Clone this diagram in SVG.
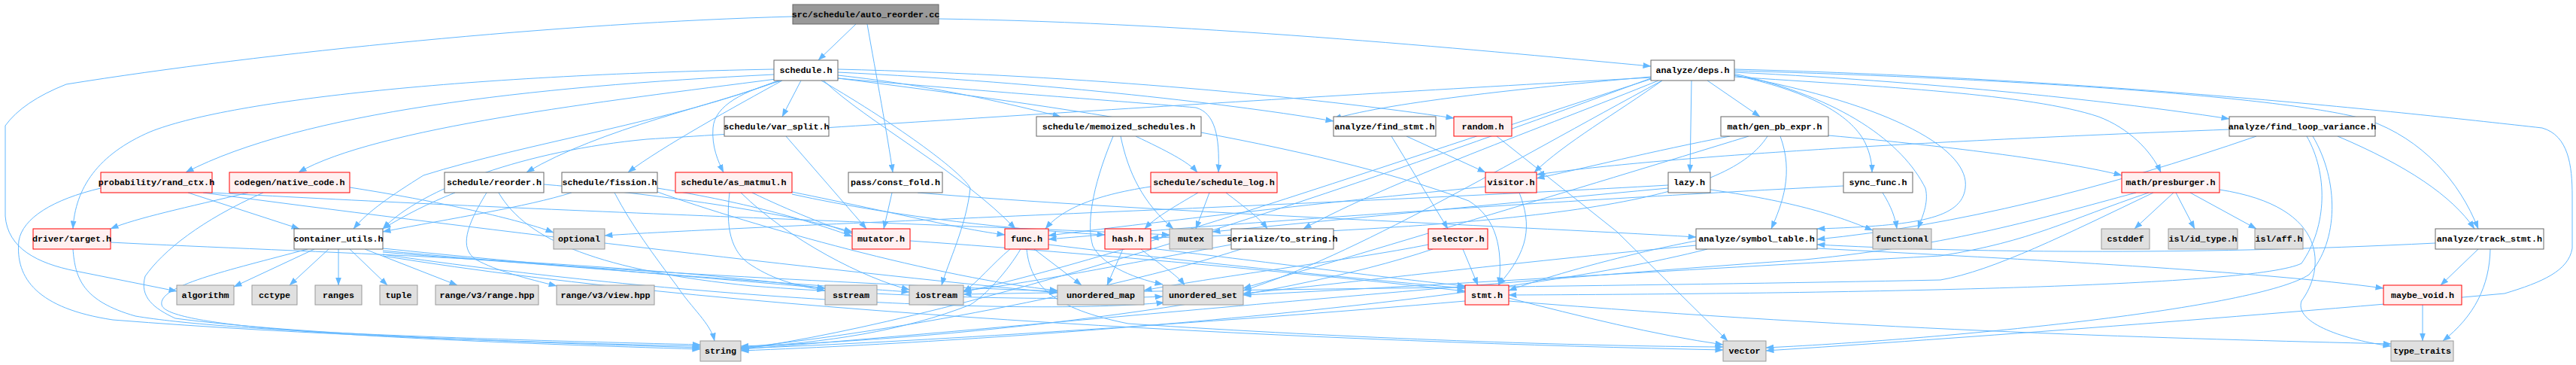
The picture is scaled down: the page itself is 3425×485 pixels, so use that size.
<svg xmlns="http://www.w3.org/2000/svg" width="3425" height="485" viewBox="0 0 3425 485">
<style>
.e{fill:none;stroke:#63b8ff;stroke-width:1;marker-end:url(#ah)}
.w rect{fill:#ffffff;stroke:#666666;stroke-width:1}
.r rect{fill:#fff0f0;stroke:#ff0000;stroke-width:1}
.g rect{fill:#e0e0e0;stroke:#999999;stroke-width:1}
.k rect{fill:#999999;stroke:#666666;stroke-width:1}
text{font-family:"Liberation Mono","DejaVu Sans Mono",monospace;font-size:11.7px;font-weight:bold;fill:#000000;text-anchor:middle}
</style>
<defs>
<marker id="ah" markerUnits="userSpaceOnUse" markerWidth="11" markerHeight="8" viewBox="0 0 11 8" refX="10.5" refY="4" orient="auto">
<path d="M0,0 L11,4 L0,8 z" fill="#63b8ff"/>
</marker>
</defs>
<rect width="3425" height="485" fill="#ffffff"/>
<g id="edges">
<path class="e" d="M1138,32 L1088,80"/>
<path class="e" d="M1153,32 C1165,100 1180,180 1187,229"/>
<path class="e" d="M1054,22 C750,30 350,70 88,112 Q30,135 7,167 L7,287 C10,330 50,350 100,360 L235,387"/>
<path class="e" d="M1248,25 C1600,30 2000,70 2195,88"/>
<path class="e" d="M1029,92 C600,100 300,135 200,175 C130,205 100,250 97,304"/>
<path class="e" d="M1029,99 C700,115 400,150 247,229"/>
<path class="e" d="M1032,105 C800,135 500,170 397,229"/>
<path class="e" d="M1037,107 C950,140 800,170 700,229"/>
<path class="e" d="M1040,107 C980,140 880,195 835,229"/>
<path class="e" d="M1040,107 C990,120 950,140 948,170 C946,195 955,215 962,229"/>
<path class="e" d="M1065,107 L1040,155"/>
<path class="e" d="M1114,100 C1250,115 1350,140 1410,155"/>
<path class="e" d="M1114,104 C1350,125 1500,135 1590,143 C1615,150 1622,180 1620,229"/>
<path class="e" d="M1114,96 C1400,110 1650,140 1773,161"/>
<path class="e" d="M1114,92 C1450,100 1750,130 1933,157"/>
<path class="e" d="M1095,107 C1150,160 1280,230 1350,304"/>
<path class="e" d="M1114,104 C1400,140 1750,190 1953,267 C1990,290 1998,330 1993,379"/>
<path class="e" d="M1092,107 C1200,170 1280,230 1290,250 C1285,300 1260,350 1252,379"/>
<path class="e" d="M1035,107 C900,160 700,190 563,233 C520,260 490,280 470,304"/>
<path class="e" d="M2306,96 C2600,110 2850,140 2964,158"/>
<path class="e" d="M2195,102 C2050,115 1850,135 1773,158"/>
<path class="e" d="M2249,107 L2247,229"/>
<path class="e" d="M2270,107 L2340,155"/>
<path class="e" d="M2306,100 C2400,120 2460,150 2480,190 C2487,205 2489,218 2489,229"/>
<path class="e" d="M2306,102 C2500,115 2700,125 2790,155 C2830,170 2860,200 2873,229"/>
<path class="e" d="M2306,94 C2700,105 3050,130 3150,160 C3220,185 3270,240 3295,304"/>
<path class="e" d="M2306,98 C2450,130 2530,190 2560,250 C2565,270 2555,290 2550,304"/>
<path class="e" d="M2306,100 C2520,140 2620,200 2613,250 C2608,290 2550,300 2416,304"/>
<path class="e" d="M2210,107 C2150,150 2080,190 2040,229"/>
<path class="e" d="M2205,107 C2050,170 1850,240 1733,304"/>
<path class="e" d="M2195,105 C1900,200 1500,340 1281,388"/>
<path class="e" d="M2210,107 C2000,220 1800,340 1653,386"/>
<path class="e" d="M2306,92 C2800,105 3200,150 3380,170 C3415,180 3420,220 3420,260 L3420,330 C3415,360 3380,375 3330,390 C3000,420 2600,450 2348,466"/>
<path class="e" d="M2195,104 C1800,250 1300,420 985,464"/>
<path class="e" d="M2195,103 C1700,130 1100,170 860,185 C700,200 560,250 509,304"/>
<path class="e" d="M1045,181 L1152,304"/>
<path class="e" d="M1186,256 L1175,304"/>
<path class="e" d="M1220,256 C1500,280 2000,300 2255,315"/>
<path class="e" d="M1000,256 C1050,280 1100,300 1133,310"/>
<path class="e" d="M970,256 C965,300 970,335 1000,353 C1030,372 1060,380 1097,386"/>
<path class="e" d="M985,256 C1050,320 1150,370 1209,385"/>
<path class="e" d="M1053,255 C1200,285 1280,305 1336,312"/>
<path class="e" d="M1053,258 C1200,290 1350,305 1469,312"/>
<path class="e" d="M760,256 C700,275 600,290 509,308"/>
<path class="e" d="M874,250 C1000,270 1080,295 1133,314"/>
<path class="e" d="M817,256 C840,300 870,340 900,380 C920,410 945,430 950,453"/>
<path class="e" d="M874,255 C1000,300 1250,370 1406,386"/>
<path class="e" d="M605,256 C570,270 540,285 509,304"/>
<path class="e" d="M723,245 C900,260 1050,285 1133,308"/>
<path class="e" d="M647,256 C620,300 610,330 633,345 C660,360 700,370 740,380"/>
<path class="e" d="M663,256 C700,320 800,360 1000,380 C1200,395 1400,400 1546,394"/>
<path class="e" d="M330,256 C250,275 180,290 147,304"/>
<path class="e" d="M350,256 C267,293 217,333 193,367 C185,395 205,410 233,423 C400,445 700,455 931,462"/>
<path class="e" d="M465,249 C600,270 700,295 736,309"/>
<path class="e" d="M250,256 L398,304"/>
<path class="e" d="M134,250 C70,265 30,290 25,320 C20,370 50,410 150,425 C400,445 700,455 931,460"/>
<path class="e" d="M282,256 C700,280 1300,300 1555,312"/>
<path class="e" d="M270,256 C600,300 1100,360 1406,389"/>
<path class="e" d="M97,331 C100,370 110,400 180,420 C300,440 600,450 931,458"/>
<path class="e" d="M147,322 C400,335 800,345 1097,383"/>
<path class="e" d="M418,331 L311,381"/>
<path class="e" d="M437,331 L385,379"/>
<path class="e" d="M450,331 L450,379"/>
<path class="e" d="M465,331 L515,379"/>
<path class="e" d="M485,331 L608,379"/>
<path class="e" d="M509,330 C700,350 950,370 1097,383"/>
<path class="e" d="M509,333 C800,360 1100,380 1209,388"/>
<path class="e" d="M409,331 C300,360 210,380 215,405 C220,430 400,448 931,464"/>
<path class="e" d="M509,335 C800,360 1200,380 1406,387"/>
<path class="e" d="M509,338 C900,395 1350,420 1548,402"/>
<path class="e" d="M509,340 C1000,420 1800,455 2291,465"/>
<path class="e" d="M1210,320 C1500,340 1800,370 1948,387"/>
<path class="e" d="M1375,331 L1438,379"/>
<path class="e" d="M1357,331 C1340,360 1310,393 1290,405 C1200,440 1100,455 985,462"/>
<path class="e" d="M1343,331 C1320,350 1300,375 1281,388"/>
<path class="e" d="M1365,331 C1370,380 1400,410 1500,430 C1800,450 2100,460 2291,461"/>
<path class="e" d="M1394,325 C1600,350 1850,375 1948,383"/>
<path class="e" d="M1493,331 L1472,379"/>
<path class="e" d="M1517,331 C1540,350 1565,365 1575,379"/>
<path class="e" d="M1530,330 C1700,350 1850,370 1948,380"/>
<path class="e" d="M1593,256 C1557,277 1535,290 1522,304"/>
<path class="e" d="M1608,256 L1590,304"/>
<path class="e" d="M1630,256 C1657,277 1675,290 1685,304"/>
<path class="e" d="M1530,248 C1450,260 1410,280 1390,304"/>
<path class="e" d="M1510,181 C1550,200 1580,215 1592,229"/>
<path class="e" d="M1490,181 C1500,230 1520,270 1560,304"/>
<path class="e" d="M1480,181 C1450,253 1445,300 1453,327 C1465,350 1500,368 1546,378"/>
<path class="e" d="M1850,181 L1925,304"/>
<path class="e" d="M1870,181 L1975,229"/>
<path class="e" d="M1990,181 L2150,308 L2297,453"/>
<path class="e" d="M2020,256 C2037,300 2033,333 1992,379"/>
<path class="e" d="M1975,248 C1700,275 1500,300 1394,313"/>
<path class="e" d="M1945,331 L1965,379"/>
<path class="e" d="M1905,331 C1700,400 1300,450 985,460"/>
<path class="e" d="M1899,325 C1800,345 1600,370 1521,386"/>
<path class="e" d="M2255,320 C2150,340 2050,370 2006,386"/>
<path class="e" d="M2270,331 C2000,400 1400,450 985,466"/>
<path class="e" d="M2255,326 C2000,350 1800,375 1653,390"/>
<path class="e" d="M2416,330 C2700,345 3000,360 3169,383"/>
<path class="e" d="M2274,252 C2400,270 2450,290 2490,306"/>
<path class="e" d="M2218,246 C1800,270 1000,300 804,313"/>
<path class="e" d="M2218,250 C2000,270 1800,290 1612,308"/>
<path class="e" d="M2503,256 C2515,275 2520,290 2522,304"/>
<path class="e" d="M2451,247 C2000,270 1600,300 1394,318"/>
<path class="e" d="M2431,180 C2600,195 2750,215 2821,233"/>
<path class="e" d="M2367,181 C2385,230 2370,270 2355,304"/>
<path class="e" d="M2300,181 C2200,200 2100,225 2043,237"/>
<path class="e" d="M2350,181 C2300,260 2100,300 1530,316"/>
<path class="e" d="M2325,181 C2100,250 1800,340 1653,383"/>
<path class="e" d="M2890,256 L2838,304"/>
<path class="e" d="M2893,256 L2918,304"/>
<path class="e" d="M2912,256 L3000,304"/>
<path class="e" d="M2951,252 C3100,275 3090,360 3060,400 C3050,430 3120,452 3179,460"/>
<path class="e" d="M2863,256 C2750,310 2650,360 2580,372 C2200,380 1600,385 1281,391"/>
<path class="e" d="M2840,256 C2713,290 2600,325 2400,345 C1900,380 1300,440 985,464"/>
<path class="e" d="M2857,256 C2747,293 2703,320 2580,340 C2200,360 1900,380 1653,392"/>
<path class="e" d="M3108,181 C3200,220 3260,260 3290,304"/>
<path class="e" d="M3067,181 C3095,230 3095,300 3060,350 C3000,380 2500,390 2006,392"/>
<path class="e" d="M3075,181 C3110,240 3110,320 3070,365 C3000,410 2600,450 2348,462"/>
<path class="e" d="M2964,172 C2500,190 2200,210 2043,232"/>
<path class="e" d="M3000,181 C2800,250 2600,300 2416,318"/>
<path class="e" d="M3295,331 L3245,379"/>
<path class="e" d="M3311,331 C3310,380 3290,420 3248,453"/>
<path class="e" d="M3238,323 C2900,340 2600,335 2416,325"/>
<path class="e" d="M3221,405 L3221,453"/>
<path class="e" d="M1948,400 C1600,430 1200,455 985,463"/>
<path class="e" d="M2006,396 C2100,420 2200,445 2291,458"/>
<path class="e" d="M2006,400 C2500,440 2900,450 3179,457"/>
<path class="e" d="M1650,331 C1500,380 1200,440 985,462"/>
<path class="e" d="M1637,325 C1500,350 1350,380 1281,386"/>
</g>
<g id="n_root" class="k"><rect x="1054" y="6" width="194" height="26"/><text x="1151" y="23">src/schedule/auto_reorder.cc</text></g>
<g id="n_schedule" class="w"><rect x="1029" y="80" width="85" height="27"/><text x="1071.5" y="97">schedule.h</text></g>
<g id="n_deps" class="w"><rect x="2195" y="80" width="111" height="27"/><text x="2250.5" y="97">analyze/deps.h</text></g>
<g id="n_var_split" class="w"><rect x="963" y="155" width="139" height="26"/><text x="1032.5" y="172">schedule/var_split.h</text></g>
<g id="n_memoized" class="w"><rect x="1378" y="155" width="219" height="26"/><text x="1487.5" y="172">schedule/memoized_schedules.h</text></g>
<g id="n_find_stmt" class="w"><rect x="1773" y="155" width="136" height="26"/><text x="1841" y="172">analyze/find_stmt.h</text></g>
<g id="n_random" class="r"><rect x="1933" y="155" width="77" height="26"/><text x="1971.5" y="172">random.h</text></g>
<g id="n_gen_pb_expr" class="w"><rect x="2288" y="155" width="143" height="26"/><text x="2359.5" y="172">math/gen_pb_expr.h</text></g>
<g id="n_find_loop_variance" class="w"><rect x="2964" y="155" width="194" height="26"/><text x="3061" y="172">analyze/find_loop_variance.h</text></g>
<g id="n_rand_ctx" class="r"><rect x="134" y="229" width="148" height="27"/><text x="208" y="246">probability/rand_ctx.h</text></g>
<g id="n_native_code" class="r"><rect x="305" y="229" width="160" height="27"/><text x="385" y="246">codegen/native_code.h</text></g>
<g id="n_reorder" class="w"><rect x="591" y="229" width="132" height="27"/><text x="657" y="246">schedule/reorder.h</text></g>
<g id="n_fission" class="w"><rect x="747" y="229" width="127" height="27"/><text x="810.5" y="246">schedule/fission.h</text></g>
<g id="n_as_matmul" class="r"><rect x="898" y="229" width="155" height="27"/><text x="975.5" y="246">schedule/as_matmul.h</text></g>
<g id="n_const_fold" class="w"><rect x="1128" y="229" width="125" height="27"/><text x="1190.5" y="246">pass/const_fold.h</text></g>
<g id="n_schedule_log" class="r"><rect x="1530" y="229" width="168" height="27"/><text x="1614" y="246">schedule/schedule_log.h</text></g>
<g id="n_visitor" class="r"><rect x="1975" y="229" width="68" height="27"/><text x="2009" y="246">visitor.h</text></g>
<g id="n_lazy" class="w"><rect x="2218" y="229" width="56" height="27"/><text x="2246" y="246">lazy.h</text></g>
<g id="n_sync_func" class="w"><rect x="2451" y="229" width="92" height="27"/><text x="2497" y="246">sync_func.h</text></g>
<g id="n_presburger" class="r"><rect x="2821" y="229" width="130" height="27"/><text x="2886" y="246">math/presburger.h</text></g>
<g id="n_target" class="r"><rect x="44" y="304" width="103" height="27"/><text x="95.5" y="321">driver/target.h</text></g>
<g id="n_container_utils" class="w"><rect x="391" y="304" width="118" height="27"/><text x="450" y="321">container_utils.h</text></g>
<g id="n_optional" class="g"><rect x="736" y="304" width="68" height="27"/><text x="770" y="321">optional</text></g>
<g id="n_mutator" class="r"><rect x="1133" y="304" width="77" height="27"/><text x="1171.5" y="321">mutator.h</text></g>
<g id="n_func" class="r"><rect x="1336" y="304" width="58" height="27"/><text x="1365" y="321">func.h</text></g>
<g id="n_hash" class="r"><rect x="1469" y="304" width="61" height="27"/><text x="1499.5" y="321">hash.h</text></g>
<g id="n_mutex" class="g"><rect x="1555" y="304" width="57" height="27"/><text x="1583.5" y="321">mutex</text></g>
<g id="n_to_string" class="w"><rect x="1637" y="304" width="136" height="27"/><text x="1705" y="321">serialize/to_string.h</text></g>
<g id="n_selector" class="r"><rect x="1899" y="304" width="79" height="27"/><text x="1938.5" y="321">selector.h</text></g>
<g id="n_symbol_table" class="w"><rect x="2255" y="304" width="161" height="27"/><text x="2335.5" y="321">analyze/symbol_table.h</text></g>
<g id="n_functional" class="g"><rect x="2490" y="304" width="78" height="27"/><text x="2529" y="321">functional</text></g>
<g id="n_cstddef" class="g"><rect x="2794" y="304" width="64" height="27"/><text x="2826" y="321">cstddef</text></g>
<g id="n_id_type" class="g"><rect x="2883" y="304" width="92" height="27"/><text x="2929" y="321">isl/id_type.h</text></g>
<g id="n_aff" class="g"><rect x="2998" y="304" width="64" height="27"/><text x="3030" y="321">isl/aff.h</text></g>
<g id="n_track_stmt" class="w"><rect x="3238" y="304" width="144" height="27"/><text x="3310" y="321">analyze/track_stmt.h</text></g>
<g id="n_algorithm" class="g"><rect x="235" y="379" width="76" height="26"/><text x="273" y="396">algorithm</text></g>
<g id="n_cctype" class="g"><rect x="335" y="379" width="60" height="26"/><text x="365" y="396">cctype</text></g>
<g id="n_ranges" class="g"><rect x="419" y="379" width="62" height="26"/><text x="450" y="396">ranges</text></g>
<g id="n_tuple" class="g"><rect x="505" y="379" width="50" height="26"/><text x="530" y="396">tuple</text></g>
<g id="n_range_hpp" class="g"><rect x="579" y="379" width="137" height="26"/><text x="647.5" y="396">range/v3/range.hpp</text></g>
<g id="n_view_hpp" class="g"><rect x="740" y="379" width="130" height="26"/><text x="805" y="396">range/v3/view.hpp</text></g>
<g id="n_sstream" class="g"><rect x="1097" y="379" width="69" height="26"/><text x="1131.5" y="396">sstream</text></g>
<g id="n_iostream" class="g"><rect x="1209" y="379" width="72" height="26"/><text x="1245" y="396">iostream</text></g>
<g id="n_unordered_map" class="g"><rect x="1406" y="379" width="115" height="26"/><text x="1463.5" y="396">unordered_map</text></g>
<g id="n_unordered_set" class="g"><rect x="1546" y="379" width="107" height="26"/><text x="1599.5" y="396">unordered_set</text></g>
<g id="n_stmt" class="r"><rect x="1948" y="379" width="58" height="26"/><text x="1977" y="396">stmt.h</text></g>
<g id="n_maybe_void" class="r"><rect x="3169" y="379" width="104" height="26"/><text x="3221" y="396">maybe_void.h</text></g>
<g id="n_string" class="g"><rect x="931" y="453" width="54" height="27"/><text x="958" y="470">string</text></g>
<g id="n_vector" class="g"><rect x="2291" y="453" width="57" height="27"/><text x="2319.5" y="470">vector</text></g>
<g id="n_type_traits" class="g"><rect x="3179" y="453" width="83" height="27"/><text x="3220.5" y="470">type_traits</text></g>
</svg>
